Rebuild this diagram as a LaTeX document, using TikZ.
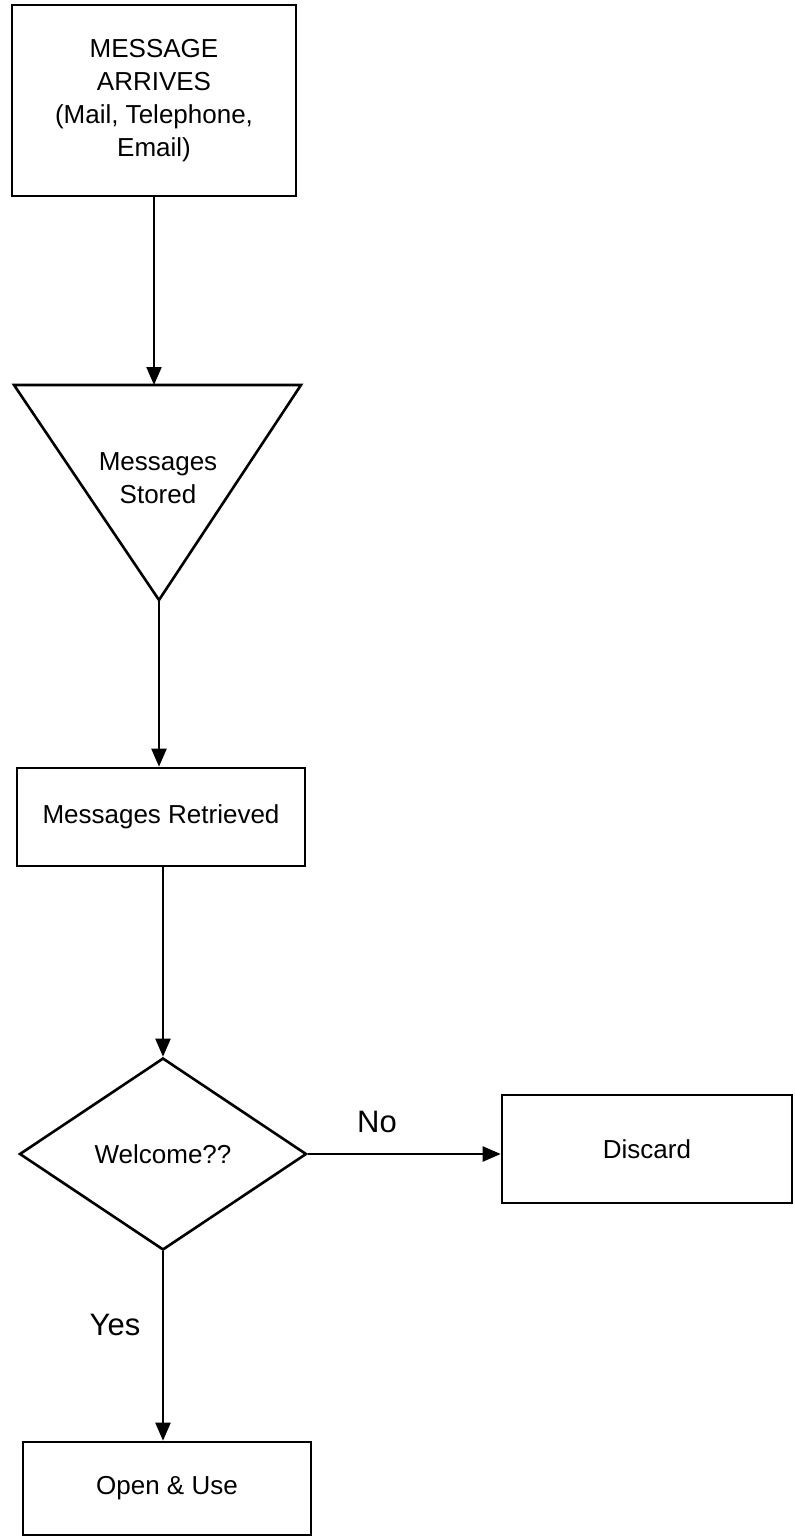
\documentclass[tikz,border=0pt]{standalone}
\usepackage{fontspec}
\setmainfont{Liberation Sans}
\usetikzlibrary{shapes.geometric,arrows.meta}
\tikzset{
  msgbox/.style={draw, line width=2.6pt, align=center, inner sep=0pt,
    font=\fontsize{26}{33}\selectfont},
  decision/.style={draw, diamond, line width=2.6pt, inner sep=0pt,
    font=\fontsize{26}{33}\selectfont},
  answer/.style={font=\fontsize{31}{37}\selectfont}
}
\begin{document}
\begin{tikzpicture}[x=1pt,y=1pt,line width=2.2pt,>={Triangle[length=18pt,width=15pt]}]
\useasboundingbox (0,0) rectangle (795,-1537);
\node[msgbox, minimum width=284pt, minimum height=191pt] (arrives) at (154,-100.5)
{MESSAGE\\ARRIVES\\(Mail, Telephone,\\Email)};
% storage triangle
\draw[line width=2.6pt] (14,-385) coordinate (stL) -- (301,-385) coordinate (stR)
  -- (159,-600) coordinate (stTip) -- cycle;
\node[align=center, font=\fontsize{26}{33}\selectfont] (stored) at (158,-478)
{Messages\\Stored};
\node[msgbox, minimum width=288pt, minimum height=98pt] (retrieved) at (161,-817)
{Messages Retrieved};
\node[decision, minimum width=287pt, minimum height=192pt] (welcome) at (163,-1154)
{Welcome??};
\node[msgbox, minimum width=290pt, minimum height=108pt] (discard) at (647,-1149)
{Discard};
\node[msgbox, minimum width=288pt, minimum height=93pt] (open) at (167,-1488.5)
{Open \& Use};
\node[answer] (no) at (377,-1122) {No};
\node[answer] (yes) at (115,-1325) {Yes};
\draw[->] (arrives.south) -- (arrives.south |- stL);
\draw[->] (stTip) -- (stTip |- retrieved.north);
\draw[->] (welcome.north |- retrieved.south) -- (welcome.north);
\draw[->] (welcome.east) -- (welcome.east -| discard.west);
\draw[->] (welcome.south) -- (welcome.south |- open.north);
\end{tikzpicture}
\end{document}
